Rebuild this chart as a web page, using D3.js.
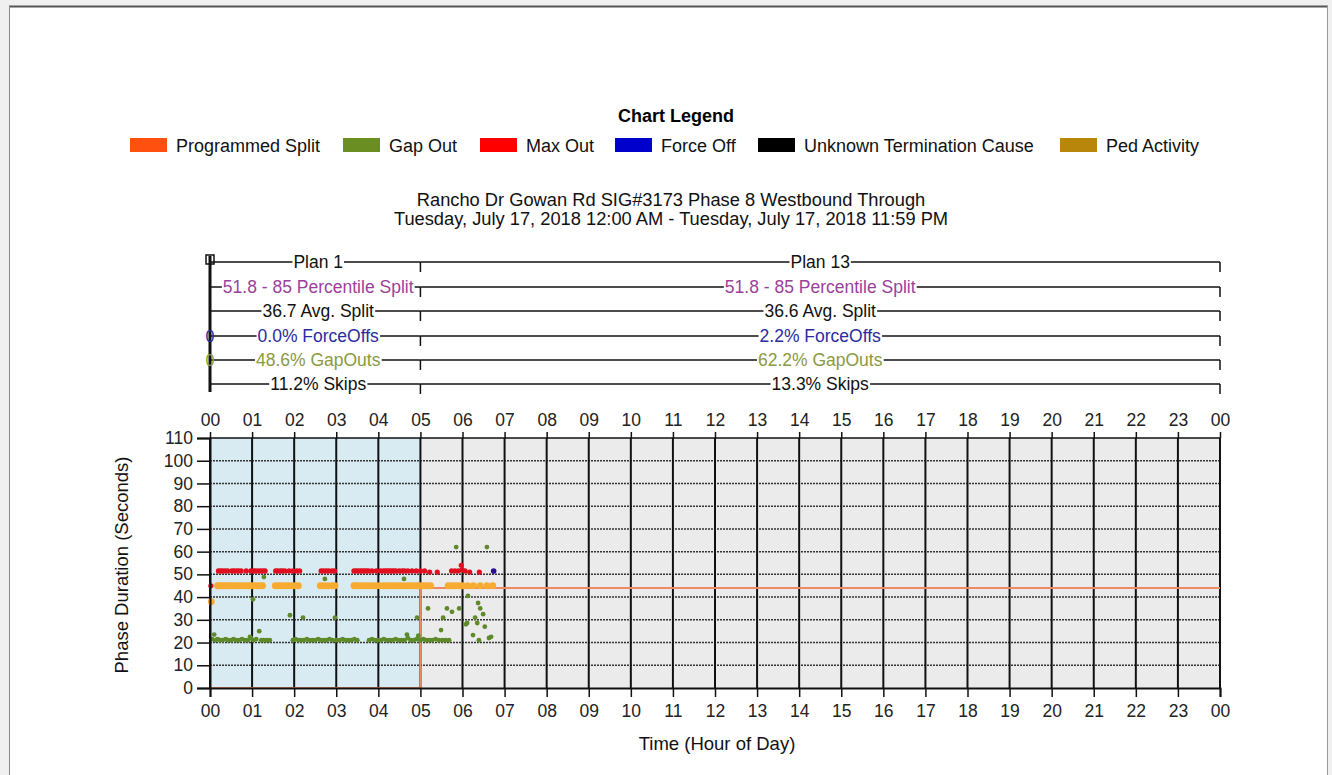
<!DOCTYPE html>
<html>
<head>
<meta charset="utf-8">
<script src="https://cdn.jsdelivr.net/npm/d3@7"></script>
<style>
  html, body { margin: 0; padding: 0; background: #f0f0f0; }
  svg { display: block; font-family: "Liberation Sans", Arial, sans-serif; }
</style>
</head>
<body>
<svg id="chart" width="1332" height="775"></svg>
<script>
// --- data ---
const legendNames = ["Programmed Split", "Gap Out", "Max Out", "Force Off", "Unknown Termination Cause", "Ped Activity"];
const legendColors = ["#ff5010", "#6b8e23", "#ff0000", "#0000cd", "#000000", "#b8860b"];

const titleLines = [
  "Rancho Dr Gowan Rd SIG#3173 Phase 8 Westbound Through",
  "Tuesday, July 17, 2018 12:00 AM - Tuesday, July 17, 2018 11:59 PM"
];

const hourTicks = d3.range(0, 25);           // 00 .. 00
const yTicks = [0, 10, 20, 30, 40, 50, 60, 70, 80, 90, 100, 110];

// plans
const planNames = ["Plan 1", "Plan 13"];
const planStart = [0, 5];
const planEnd = [5, 24];
const pctSplit = ["51.8 - 85 Percentile Split", "51.8 - 85 Percentile Split"];
const avgSplit = ["36.7 Avg. Split", "36.6 Avg. Split"];
const forceOffs = ["0.0% ForceOffs", "2.2% ForceOffs"];
const gapOuts = ["48.6% GapOuts", "62.2% GapOuts"];
const skips = ["11.2% Skips", "13.3% Skips"];

// programmed split (step)
const programmedSplit = [[0, 0], [5, 0], [5, 44], [24, 44]];

// [hour, seconds]
const maxOutPoints = [
  [0.02, 45],
  [0.20, 51.5], [0.25, 51.5], [0.30, 51.5], [0.36, 51.5], [0.42, 51.5], [0.52, 51.5], [0.57, 51.5],
  [0.63, 51.5], [0.68, 51.5], [0.74, 51.5], [0.86, 51.5], [0.97, 51.5], [1.03, 51.5], [1.08, 51.5],
  [1.14, 51.5], [1.20, 51.5], [1.26, 51.5], [1.31, 51.5],
  [1.56, 51.5], [1.61, 51.5], [1.67, 51.5], [1.72, 51.5], [1.78, 51.5], [1.88, 51.5], [1.97, 51.5],
  [2.06, 51.5], [2.13, 51.5],
  [2.64, 51.5], [2.70, 51.5], [2.76, 51.5], [2.82, 51.5], [2.90, 51.5], [2.96, 51.5],
  [3.42, 51.5], [3.47, 51.5], [3.52, 51.5], [3.57, 51.5], [3.62, 51.5], [3.67, 51.5], [3.72, 51.5],
  [3.77, 51.5], [3.85, 51.5], [3.95, 51.5], [4.05, 51.5], [4.12, 51.5], [4.17, 51.5], [4.22, 51.5],
  [4.27, 51.5], [4.32, 51.5], [4.37, 51.5], [4.42, 51.5], [4.50, 51.5], [4.57, 51.5], [4.62, 51.5],
  [4.70, 51.5], [4.80, 51.5], [4.90, 51.5], [5.00, 51.5], [5.10, 51.5],
  [5.22, 51], [5.40, 51], [5.74, 51.5], [5.82, 51.5], [5.90, 51.5], [5.97, 54], [5.99, 52],
  [6.06, 51.5], [6.17, 51], [6.40, 51]
];

const forceOffPoints = [[6.74, 51.5]];

const pedPoints = [
  [0.03, 38],
  [0.18, 45], [0.23, 45], [0.28, 45], [0.33, 45], [0.40, 45], [0.45, 45], [0.50, 45], [0.55, 45],
  [0.62, 45], [0.70, 45], [0.78, 45], [0.85, 45], [0.92, 45], [0.98, 45], [1.05, 45], [1.12, 45],
  [1.18, 45], [1.25, 45],
  [1.55, 45], [1.62, 45], [1.70, 45], [1.78, 45], [1.86, 45], [1.94, 45], [2.02, 45], [2.10, 45],
  [2.62, 45], [2.70, 45], [2.80, 45], [2.90, 45], [2.97, 45],
  [3.42, 45], [3.48, 45], [3.55, 45], [3.62, 45], [3.70, 45], [3.78, 45], [3.86, 45], [3.95, 45],
  [4.03, 45], [4.12, 45], [4.20, 45], [4.28, 45], [4.36, 45], [4.44, 45], [4.52, 45], [4.60, 45],
  [4.68, 45], [4.76, 45], [4.84, 45], [4.92, 45], [5.00, 45], [5.08, 45], [5.16, 45], [5.24, 45],
  [5.66, 45], [5.74, 45], [5.82, 45], [5.90, 45], [6.00, 45], [6.12, 45], [6.26, 45], [6.42, 45],
  [6.58, 45], [6.72, 45]
];

const gapOutPoints = [
  // scattered
  [0.10, 23.5], [0.95, 22.5], [1.02, 39], [1.17, 25], [1.28, 48.8], [1.90, 32], [2.21, 31],
  [2.73, 48], [2.97, 31], [4.61, 48], [4.68, 23.5], [4.92, 31], [4.95, 23], [5.18, 35],
  [5.49, 25.5], [5.54, 31], [5.63, 35], [5.75, 33.5], [5.85, 62], [5.92, 35], [6.08, 28],
  [6.11, 28.6], [6.13, 40.5], [6.25, 23.3], [6.30, 31], [6.35, 28.6], [6.37, 37.4], [6.39, 21],
  [6.42, 35], [6.49, 32.5], [6.53, 27], [6.58, 62], [6.63, 22], [6.68, 22.5],
  // main row
  [0.05, 21.5], [0.12, 21], [0.18, 21.5], [0.24, 21], [0.30, 21], [0.37, 21.5], [0.43, 21], [0.50, 21],
  [0.56, 21.5], [0.62, 21], [0.69, 21], [0.76, 21.5], [0.83, 21], [0.90, 21], [0.97, 22], [1.03, 21],
  [1.10, 21.5], [1.22, 21], [1.28, 21], [1.35, 21], [1.42, 21],
  [1.97, 21], [2.03, 21.5], [2.10, 21], [2.16, 21], [2.23, 21], [2.30, 21.5], [2.36, 21], [2.43, 21],
  [2.50, 21], [2.57, 21.5], [2.63, 21], [2.70, 21], [2.77, 21], [2.84, 21.5], [2.91, 21], [3.00, 21],
  [3.08, 21], [3.15, 21.5], [3.22, 21], [3.29, 21], [3.36, 21], [3.43, 21.5], [3.50, 21],
  [3.78, 21], [3.85, 21.5], [3.92, 21], [3.99, 21], [4.06, 21], [4.13, 21.5], [4.20, 21], [4.27, 21],
  [4.34, 21], [4.41, 21.5], [4.48, 21], [4.55, 21], [4.62, 21], [4.70, 22], [4.77, 21], [4.84, 21],
  [4.91, 21.5], [5.00, 21], [5.07, 21.5], [5.14, 21], [5.21, 21], [5.28, 21], [5.36, 21.5], [5.44, 21],
  [5.52, 21], [5.60, 21], [5.68, 21]
];

// --- layout ---
const svg = d3.select("#chart");
const W = 1332, H = 775;

// panel frame
svg.append("rect").attr("x", 9).attr("y", 6).attr("width", 1319).attr("height", 775)
  .attr("fill", "#ffffff").attr("stroke", "none");
svg.append("line").attr("x1", 9).attr("x2", 1328).attr("y1", 6.5).attr("y2", 6.5).attr("stroke", "#555").attr("stroke-width", 2);
svg.append("line").attr("x1", 9.5).attr("x2", 9.5).attr("y1", 6).attr("y2", H).attr("stroke", "#888").attr("stroke-width", 1);
svg.append("line").attr("x1", 1327.5).attr("x2", 1327.5).attr("y1", 6).attr("y2", H).attr("stroke", "#999").attr("stroke-width", 1);

const x = d3.scaleLinear().domain([0, 24]).range([210, 1220]);
const y = d3.scaleLinear().domain([0, 110]).range([688, 438]);

// legend
svg.append("text").attr("x", 676).attr("y", 122).attr("text-anchor", "middle")
  .attr("font-weight", "bold").attr("font-size", 18).text("Chart Legend");

const legendX = [130, 343, 480, 615, 758, 1060];
const leg = svg.append("g");
legendNames.forEach((name, i) => {
  leg.append("rect").attr("x", legendX[i]).attr("y", 138).attr("width", 37).attr("height", 14)
    .attr("fill", legendColors[i]);
  leg.append("text").attr("x", legendX[i] + 46).attr("y", 152).attr("font-size", 18)
    .attr("fill", "#111").text(name);
});

// titles
titleLines.forEach((t, i) => {
  svg.append("text").attr("x", 671).attr("y", 206 + i * 19).attr("text-anchor", "middle")
    .attr("font-size", 18.3).attr("fill", "#111").text(t);
});

// plot background by plan
const plot = svg.append("g");
plot.append("rect").attr("x", x(0)).attr("y", y(110)).attr("width", x(24) - x(0)).attr("height", y(0) - y(110))
  .attr("fill", "#ebebeb");
plot.append("rect").attr("x", x(planStart[0])).attr("y", y(110)).attr("width", x(planEnd[0]) - x(planStart[0]))
  .attr("height", y(0) - y(110)).attr("fill", "#d8ebf3");

// horizontal dotted grid
plot.selectAll(".hgrid").data(yTicks.filter(v => v > 0 && v < 110)).enter().append("line")
  .attr("x1", x(0)).attr("x2", x(24)).attr("y1", d => y(d)).attr("y2", d => y(d))
  .attr("stroke", "#333").attr("stroke-width", 1.5).attr("stroke-dasharray", "2,1");

// vertical hour grid
plot.selectAll(".vgrid").data(hourTicks).enter().append("line")
  .attr("x1", d => x(d)).attr("x2", d => x(d)).attr("y1", y(110)).attr("y2", y(0))
  .attr("stroke", "#111").attr("stroke-width", 2);

// top border
plot.append("line").attr("x1", x(0)).attr("x2", x(24)).attr("y1", y(110)).attr("y2", y(110))
  .attr("stroke", "#111").attr("stroke-width", 1.5);

// axes
const fmtHour = d => d3.format("02d")(d % 24);
const xBottom = d3.axisBottom(x).tickValues(hourTicks).tickFormat(fmtHour).tickSize(9).tickPadding(8);
const xTop = d3.axisTop(x).tickValues(hourTicks).tickFormat(fmtHour).tickSize(6).tickPadding(6);
const yLeft = d3.axisLeft(y).tickValues(yTicks).tickSize(13).tickPadding(4);

function styleAxis(g) {
  g.select(".domain").attr("stroke", "#111").attr("stroke-width", 2);
  g.selectAll(".tick line").attr("stroke", "#111").attr("stroke-width", 1.5);
  g.selectAll(".tick text").attr("fill", "#222").attr("font-size", 17.5)
    .attr("font-family", "'Liberation Sans', Arial, sans-serif");
}
svg.append("g").attr("transform", `translate(0,${y(0)})`).call(xBottom).call(styleAxis);
svg.append("g").attr("transform", `translate(0,${y(110)})`).call(xTop).call(styleAxis)
  .call(g => g.select(".domain").remove());
svg.append("g").attr("transform", `translate(${x(0)},0)`).call(yLeft).call(styleAxis);

// programmed split line
const stepLine = d3.line().x(d => x(d[0])).y(d => y(d[1]));
plot.append("path").datum(programmedSplit).attr("d", stepLine)
  .attr("fill", "none").attr("stroke", "#ee8a62").attr("stroke-width", 2);

// points
function dots(data, color, r) {
  plot.append("g").selectAll("circle").data(data).enter().append("circle")
    .attr("cx", d => x(d[0])).attr("cy", d => y(d[1])).attr("r", r)
    .attr("fill", color);
}
dots(pedPoints, "#f7ab30", 3.4);
dots(maxOutPoints, "#e01020", 2.6);
dots(forceOffPoints, "#2a1090", 2.8);
dots(gapOutPoints, "#5f8a2a", 2.4);

// axis titles
svg.append("text").attr("x", 717).attr("y", 750).attr("text-anchor", "middle")
  .attr("font-size", 18.5).attr("fill", "#111").text("Time (Hour of Day)");
svg.append("text").attr("transform", "translate(128,565) rotate(-90)").attr("text-anchor", "middle")
  .attr("font-size", 18.5).attr("fill", "#111").text("Phase Duration (Seconds)");

// plan annotation rows
const rowY = [262, 287, 311, 336, 360, 384];
const rows = [
  { labels: planNames, color: "#111" },
  { labels: pctSplit, color: "#9b3f9b" },
  { labels: avgSplit, color: "#111" },
  { labels: forceOffs, color: "#2b2ba0" },
  { labels: gapOuts, color: "#8a9a40" },
  { labels: skips, color: "#111" }
];
const ann = svg.append("g");
rows.forEach((row, ri) => {
  const yy = rowY[ri];
  row.labels.forEach((lab, pi) => {
    const x0 = x(planStart[pi]), x1 = x(planEnd[pi]);
    ann.append("line").attr("x1", x0).attr("x2", x1).attr("y1", yy).attr("y2", yy)
      .attr("stroke", "#111").attr("stroke-width", 1.5);
    ann.append("line").attr("x1", x1).attr("x2", x1).attr("y1", yy).attr("y2", yy + 10)
      .attr("stroke", "#111").attr("stroke-width", 1.5);
    const t = ann.append("text").attr("x", (x0 + x1) / 2 + (pi === 0 ? 3 : 0)).attr("y", yy + 6)
      .attr("text-anchor", "middle").attr("font-size", 17.5).attr("fill", row.color).text(lab);
    const bb = t.node().getBBox();
    ann.insert("rect", () => t.node()).attr("x", bb.x - 1).attr("y", yy - 2).attr("width", bb.width + 2)
      .attr("height", 4).attr("fill", "#fff");
  });
});
// zero-length plan marker at midnight
ann.append("rect").attr("x", x(0) - 1.5).attr("y", 256).attr("width", 3).attr("height", 136).attr("fill", "#111");
ann.append("rect").attr("x", x(0) - 4).attr("y", 255).attr("width", 8).attr("height", 9)
  .attr("fill", "none").attr("stroke", "#111").attr("stroke-width", 1.5);
ann.append("text").attr("x", x(0)).attr("y", rowY[3] + 6).attr("text-anchor", "middle")
  .attr("font-size", 16).attr("fill", "#2b2ba0").text("0");
ann.append("text").attr("x", x(0)).attr("y", rowY[4] + 6).attr("text-anchor", "middle")
  .attr("font-size", 16).attr("fill", "#8a9a40").text("0");
</script>
</body>
</html>
